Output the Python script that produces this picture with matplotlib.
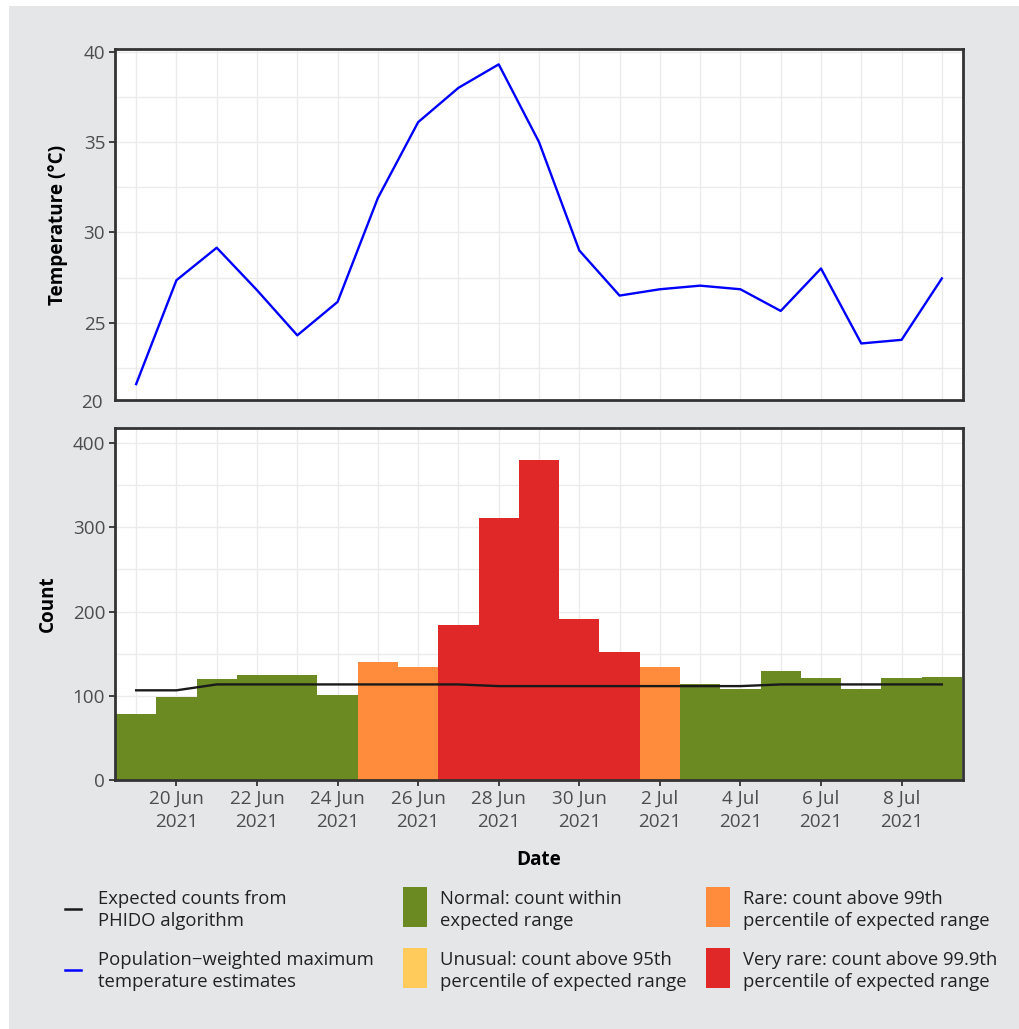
import matplotlib
matplotlib.use("Agg")
import matplotlib.pyplot as plt
import matplotlib.dates as mdates
from matplotlib.patches import Rectangle
from matplotlib.lines import Line2D
import numpy as np
import pandas as pd

# ---- data ----
dates = pd.date_range("2021-06-19", "2021-07-09", freq="D")
temperature = [21.6, 27.35, 29.15, 26.8, 24.3, 26.15, 31.9, 36.1, 38.0, 39.3,
               35.0, 29.0, 26.5, 26.85, 27.05, 26.85, 25.65, 28.0, 23.85, 24.05, 27.45]
counts = [78, 98, 120, 125, 125, 101, 140, 134, 184, 311, 380, 191, 152, 134,
          114, 108, 129, 121, 108, 121, 122]
expected = [106.5, 106.5, 113.5, 113.5, 113.5, 113.5, 113.5, 113.5, 113.5, 111.5,
            111.5, 111.5, 111.5, 111.5, 111.5, 111.5, 113.5, 113.5, 113.5, 113.5, 113.5]
category = ["Normal"] * 6 + ["Rare"] * 2 + ["Very rare"] * 5 + ["Rare"] + ["Normal"] * 7

cat_colors = {"Normal": "#6B8A22", "Unusual": "#FFCC5C", "Rare": "#FF8C3C", "Very rare": "#E02829"}
cat_labels = {"Normal": "Normal: count within\nexpected range",
              "Unusual": "Unusual: count above 95th\npercentile of expected range",
              "Rare": "Rare: count above 99th\npercentile of expected range",
              "Very rare": "Very rare: count above 99.9th\npercentile of expected range"}
line_labels = ["Expected counts from\nPHIDO algorithm",
               "Population\u2212weighted maximum\ntemperature estimates"]

temp_ticks = [25, 30, 35, 40]
count_ticks = [0, 100, 200, 300, 400]
tick_dates = pd.date_range("2021-06-20", "2021-07-08", freq="2D")

# ---- style ----
plt.rcParams['font.family'] = ['Open Sans', 'DejaVu Sans']
BG = "#E5E6E8"
TXT = "#4D4D4D"
FRAME = "#333333"
GRID = "#EBEBEB"
TFS = 13.6   # tick / axis label size
LFS = 13.3   # legend size

W, H = 1020, 1029
fig = plt.figure(figsize=(W / 100, H / 100), dpi=100)
fig.patch.set_facecolor("white")
fig.patches.append(Rectangle((9 / W, 0), 1 - 9 / W, 1 - 6 / H, transform=fig.transFigure,
                             facecolor=BG, edgecolor="none", zorder=-10))

def ax_rect(x0, y0, x1, y1):
    return [x0 / W, 1 - y1 / H, (x1 - x0) / W, (y1 - y0) / H]

ax1 = fig.add_axes(ax_rect(115, 49, 963, 400))
ax2 = fig.add_axes(ax_rect(115, 428, 963, 780))

xnum = mdates.date2num(dates)
xlim = (xnum[0] - 0.525, xnum[-1] + 0.525)

for ax in (ax1, ax2):
    ax.set_facecolor("white")
    for s in ax.spines.values():
        s.set_color(FRAME)
        s.set_linewidth(2.0)
    ax.set_xlim(*xlim)
    ax.set_xticks(mdates.date2num(tick_dates))
    ax.set_xticks(mdates.date2num(dates), minor=True)
    ax.tick_params(axis="both", which="major", colors=FRAME, labelcolor=TXT,
                   labelsize=TFS, length=4, width=1.3, pad=3)
    ax.tick_params(axis="both", which="minor", length=0)
    ax.grid(True, which="both", color=GRID, linewidth=1.0)
    ax.set_axisbelow(True)

# top panel
ax1.plot(xnum, temperature, color="#0000FF", linewidth=1.7, zorder=3)
ax1.set_ylim(20.72, 40.15)
ax1.set_yticks(temp_ticks)
ax1.set_yticks([22.5, 27.5, 32.5, 37.5], minor=True)
ax1.tick_params(axis="x", which="major", length=0, labelbottom=False)
ax1.text(-0.014, -0.008, "20", transform=ax1.transAxes, ha="right", va="center",
         fontsize=TFS, color=TXT)
ax1.set_ylabel("Temperature (\u00b0C)", fontsize=TFS, fontweight="bold", color="black")

# bottom panel
bar_cols = [cat_colors[c] for c in category]
ax2.bar(xnum, counts, width=1.0, color=bar_cols, edgecolor="none", zorder=2)
ax2.plot(xnum, expected, color="#1A1A1A", linewidth=1.7, zorder=3)
ax2.set_ylim(0, 418)
ax2.set_yticks(count_ticks)
ax2.set_yticks([50, 150, 250, 350], minor=True)
ax2.set_xticklabels([f"{d.day} {d.strftime('%b')}\n{d.year}" for d in tick_dates],
                    linespacing=1.38)
ax2.set_ylabel("Count", fontsize=TFS, fontweight="bold", color="black")
ax2.set_xlabel("Date", fontsize=TFS, fontweight="bold", color="black", labelpad=14)
ax1.yaxis.set_label_coords(-0.055, 0.5)
ax2.yaxis.set_label_coords(-0.067, 0.5)

# legend (manual layout in figure pixel coords)
def fx(x): return x / W
def fy(y): return 1 - y / H

for i, (lab, col) in enumerate(zip(line_labels, ["#1A1A1A", "#0000FF"])):
    yc = 909 + i * 61
    fig.lines.append(Line2D([fx(65), fx(81)], [fy(yc), fy(yc)], color=col, linewidth=1.8,
                            transform=fig.transFigure))
    fig.text(fx(98), fy(yc + 1), lab, ha="left", va="center", fontsize=LFS, color="#222222",
             linespacing=1.3)

order = [("Normal", 403, 887), ("Unusual", 403, 948), ("Rare", 706, 887), ("Very rare", 706, 948)]
for cat, x0, y0 in order:
    fig.patches.append(Rectangle((fx(x0), fy(y0 + 40)), 24 / W, 40 / H, transform=fig.transFigure,
                                 facecolor=cat_colors[cat], edgecolor="none"))
    fig.text(fx(x0 + 37), fy(y0 + 23), cat_labels[cat], ha="left", va="center", fontsize=LFS,
             color="#222222", linespacing=1.3)

fig.savefig("out.png", dpi=100, facecolor=fig.get_facecolor())
